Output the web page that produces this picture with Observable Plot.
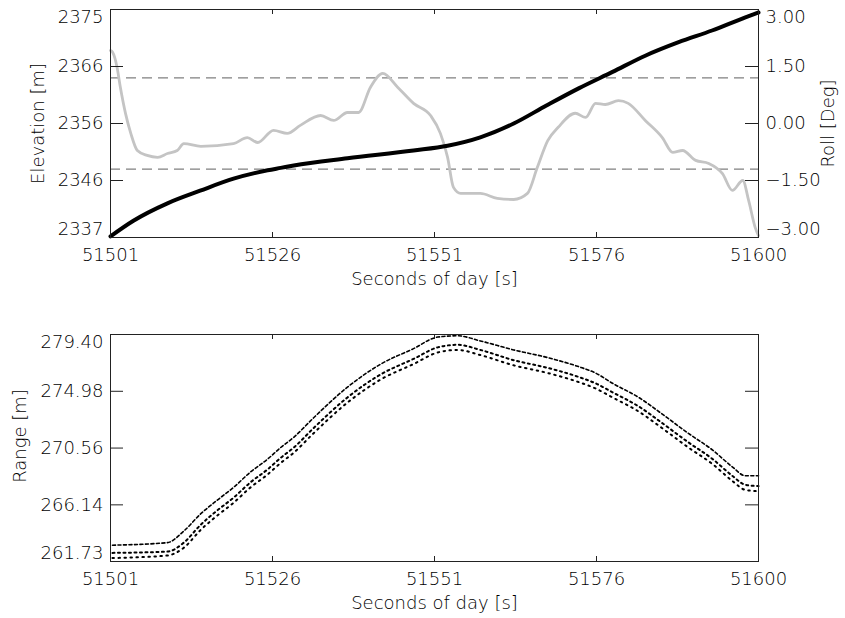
<!DOCTYPE html>
<html>
<head>
<meta charset="utf-8">
<script src="https://cdn.jsdelivr.net/npm/d3@7"></script>
<script src="https://cdn.jsdelivr.net/npm/@observablehq/plot@0.6"></script>
<style>
  html, body { margin: 0; padding: 0; background: #fff; overflow: hidden; }
  #chart svg { display: block; }
</style>
</head>
<body>
<div id="chart"></div>
<script>
// ---------- shared x axis ----------
const xDomain = [51501, 51600];
const xTicks = [51501, 51525.75, 51550.5, 51575.25, 51600];
const xTickLabels = ["51501", "51526", "51551", "51576", "51600"];
const xTitle = "Seconds of day [s]";

// ---------- top panel: elevation (left axis) ----------
const elevDomain = [2337, 2375];
const elevTicks = [2337, 2346.5, 2356, 2365.5, 2375];
const elevTickLabels = ["2337", "2346", "2356", "2366", "2375"];
const elevTitle = "Elevation [m]";
const elevTime = [51501, 51504.5, 51509.7, 51514.7, 51519.8, 51525.0, 51527.0, 51529.0, 51537.2, 51547.3, 51552.5, 51557.5, 51562.6, 51567.6, 51572.6, 51577.7, 51582.7, 51587.8, 51592.9, 51598.0, 51600];
const elevValue = [2337.2, 2339.8, 2342.7, 2344.8, 2346.8, 2348.2, 2348.6, 2349.0, 2350.2, 2351.5, 2352.3, 2353.7, 2356.0, 2359.0, 2361.9, 2364.6, 2367.3, 2369.55, 2371.5, 2373.7, 2374.5];

// ---------- top panel: roll (right axis) ----------
const rollDomain = [-3, 3];
const rollTicks = [-3, -1.5, 0, 1.5, 3];
const rollTickLabels = ["\u22123.00", "\u22121.50", "0.00", "1.50", "3.00"];
const rollTitle = "Roll [Deg]";
const rollLimits = [-1.2, 1.2];
const rollTime = [51501.0, 51501.3, 51502.0, 51502.5, 51503.3, 51504.1, 51505.1, 51506.6, 51508.2, 51509.7, 51511.2, 51512.2, 51514.8, 51519.8, 51521.9, 51523.5, 51525.9, 51528.0, 51530.0, 51533.1, 51535.1, 51537.2, 51538.9, 51540.7, 51542.6, 51544.9, 51547.3, 51549.9, 51551.4, 51552.5, 51553.4, 51554.5, 51557.5, 51560.1, 51562.6, 51564.7, 51566.2, 51567.8, 51569.4, 51572.0, 51573.6, 51575.1, 51576.6, 51578.6, 51580.1, 51582.7, 51585.3, 51586.9, 51588.4, 51590.4, 51592.4, 51594.5, 51596.0, 51597.6, 51598.5, 51599.5, 51600.0];
const rollValue = [1.92, 1.88, 1.48, 0.96, 0.26, -0.26, -0.71, -0.84, -0.89, -0.79, -0.71, -0.53, -0.6, -0.53, -0.37, -0.5, -0.18, -0.26, -0.05, 0.21, 0.08, 0.29, 0.29, 0.95, 1.32, 0.95, 0.53, 0.21, -0.26, -0.89, -1.68, -1.84, -1.84, -1.97, -2.0, -1.84, -1.16, -0.45, -0.1, 0.27, 0.16, 0.53, 0.5, 0.6, 0.53, 0.08, -0.37, -0.76, -0.71, -0.97, -1.05, -1.32, -1.76, -1.5, -2.03, -2.74, -2.95];

// ---------- bottom panel: range ----------
const rangeDomain = [261.73, 279.40];
const rangeTicks = [261.73, 266.14, 270.56, 274.98, 279.40];
const rangeTickLabels = ["261.73", "266.14", "270.56", "274.98", "279.40"];
const rangeTitle = "Range [m]";
const rangeTime = [51501.3, 51509.7, 51512.2, 51514.8, 51517.3, 51519.8, 51522.4, 51525.0, 51527.0, 51529.0, 51532.0, 51537.2, 51542.3, 51547.3, 51551.0, 51554.0, 51557.5, 51562.6, 51567.8, 51572.5, 51575.1, 51577.7, 51581.7, 51585.3, 51589.3, 51593.0, 51596.0, 51598.0, 51600];
const rangeUpper = [263.0, 263.2, 264.1, 265.45, 266.5, 267.5, 268.7, 269.7, 270.6, 271.4, 272.9, 275.3, 277.1, 278.3, 279.2, 279.3, 278.9, 278.2, 277.6, 276.9, 276.4, 275.6, 274.5, 273.2, 271.7, 270.4, 269.1, 268.4, 268.4];
const rangeMiddle = [262.4, 262.5, 263.2, 264.6, 265.7, 266.7, 267.9, 268.9, 269.8, 270.6, 272.1, 274.5, 276.3, 277.5, 278.4, 278.6, 278.2, 277.4, 276.8, 276.1, 275.6, 274.9, 273.8, 272.5, 271.0, 269.7, 268.4, 267.7, 267.6];
const rangeLower = [262.0, 262.2, 262.8, 264.2, 265.3, 266.3, 267.5, 268.5, 269.4, 270.2, 271.7, 274.1, 275.9, 277.1, 278.0, 278.2, 277.8, 277.0, 276.4, 275.7, 275.2, 274.5, 273.4, 272.1, 270.6, 269.3, 268.0, 267.3, 267.2];

// ---------- helpers ----------
const ink = "#222";
const textInk = "#000";
const FONT = "DejaVu Sans";
const lab = (ticks, labels) => { const m = new Map(ticks.map((t, i) => [t, labels[i]])); return d => m.get(d); };
const xFmt = lab(xTicks, xTickLabels);
// roll -> elevation-scale position (dual axis)
const rollToElev = r => elevDomain[0] + (r - rollDomain[0]) / (rollDomain[1] - rollDomain[0]) * (elevDomain[1] - elevDomain[0]);

const elevData = elevTime.map((t, i) => ({t, v: elevValue[i]}));
const rollData = rollTime.map((t, i) => ({t, v: rollToElev(rollValue[i])}));
const rangeData = rangeTime.map((t, i) => ({t, up: rangeUpper[i], mid: rangeMiddle[i], lo: rangeLower[i]}));

function yLabels(ticks, labels, anchor, dx, textAnchor) {
  const f = lab(ticks, labels);
  const n = ticks.length;
  const common = {y: d => d, text: f, frameAnchor: anchor, dx, textAnchor, lineAnchor: "middle", fill: textInk};
  return [
    Plot.text(ticks.slice(1, n - 1), common),
    Plot.text([ticks[n - 1]], {...common, dy: 8}),
    Plot.text([ticks[0]], {...common, dy: -8})
  ];
}

// inward ticks on all four sides, drawn with tick marks inset from the frame
function frameTicks(yTickPositions, W, H) {
  const xl = 5, yl = 13;
  return [
    Plot.tickX(xTicks, {x: d => d, insetTop: H - xl, stroke: ink}),
    Plot.tickX(xTicks, {x: d => d, insetBottom: H - xl, stroke: ink}),
    Plot.tickY(yTickPositions, {y: d => d, insetRight: W - yl, stroke: ink}),
    Plot.tickY(yTickPositions, {y: d => d, insetLeft: W - yl, stroke: ink})
  ];
}

const style = {fontFamily: FONT, fontSize: "18px", fontWeight: 200, color: textInk, background: "#fff", overflow: "visible"};
const titleOpts = {fill: textInk, textAnchor: "middle", lineAnchor: "middle"};

// ---------- top chart ----------
const topChart = Plot.plot({
  width: 845, height: 305,
  marginTop: 9, marginBottom: 68, marginLeft: 110, marginRight: 87,
  style,
  x: {domain: xDomain, axis: null},
  y: {domain: elevDomain, axis: null},
  marks: [
    Plot.ruleY(rollLimits, {y: d => rollToElev(d), stroke: "#808080", strokeWidth: 1.2, strokeDasharray: "10,6"}),
    Plot.line(rollData, {x: "t", y: "v", stroke: "#c4c4c4", strokeWidth: 2.8, curve: "monotone-x"}),
    Plot.line(elevData, {x: "t", y: "v", stroke: "#000", strokeWidth: 4, curve: "monotone-x"}),
    Plot.frame({stroke: ink}),
    ...frameTicks(elevTicks, 648, 228),
    Plot.axisX({ticks: xTicks, anchor: "bottom", tickSize: 0, tickPadding: 11, tickFormat: xFmt, label: null, fill: textInk}),
    ...yLabels(elevTicks, elevTickLabels, "left", -7, "end"),
    ...yLabels(rollTicks.map(rollToElev), rollTickLabels, "right", 7, "start"),
    Plot.text([xTitle], {...titleOpts, frameAnchor: "bottom", dy: 42}),
    Plot.text([elevTitle], {...titleOpts, frameAnchor: "left", dx: -72, rotate: -90}),
    Plot.text([rollTitle], {...titleOpts, frameAnchor: "right", dx: 70, rotate: -90})
  ]
});

// ---------- bottom chart ----------
const bottomChart = Plot.plot({
  width: 845, height: 313,
  marginTop: 29, marginBottom: 57, marginLeft: 110, marginRight: 87,
  style,
  x: {domain: xDomain, axis: null},
  y: {domain: rangeDomain, axis: null},
  marks: [
    Plot.line(rangeData, {x: "t", y: "lo", stroke: "#000", strokeWidth: 2, strokeDasharray: "1.5,4.5", curve: "monotone-x"}),
    Plot.line(rangeData, {x: "t", y: "mid", stroke: "#000", strokeWidth: 2, strokeDasharray: "2,3.5", curve: "monotone-x"}),
    Plot.line(rangeData, {x: "t", y: "up", stroke: "#000", strokeWidth: 1.6, strokeDasharray: "3,2.5", curve: "monotone-x"}),
    Plot.frame({stroke: ink}),
    ...frameTicks(rangeTicks, 648, 227),
    Plot.axisX({ticks: xTicks, anchor: "bottom", tickSize: 0, tickPadding: 11, tickFormat: xFmt, label: null, fill: textInk}),
    ...yLabels(rangeTicks, rangeTickLabels, "left", -7, "end"),
    Plot.text([xTitle], {...titleOpts, frameAnchor: "bottom", dy: 42}),
    Plot.text([rangeTitle], {...titleOpts, frameAnchor: "left", dx: -90, dy: -12, rotate: -90})
  ]
});

document.getElementById("chart").append(topChart, bottomChart);
</script>
</body>
</html>
